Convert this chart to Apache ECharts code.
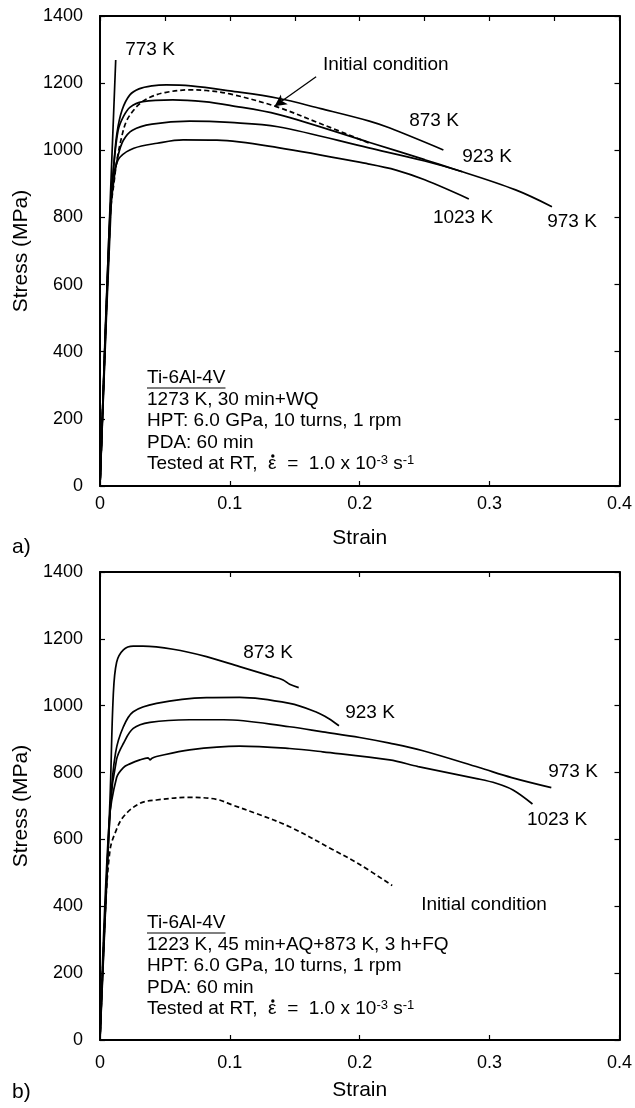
<!DOCTYPE html>
<html>
<head>
<meta charset="utf-8">
<script src="https://cdn.jsdelivr.net/npm/echarts@6/dist/echarts.min.js"></script>
<style>
  html, body { margin: 0; padding: 0; background: #fff; }
  #chart { width: 635px; height: 1108px; }
</style>
</head>
<body>
<div id="chart"></div>
<script>
// strain ticks / stress ticks
const strainTicks = [0, 0.1, 0.2, 0.3, 0.4];
const stressTicks = [0, 200, 400, 600, 800, 1000, 1200, 1400];

// a) 1273 K, 30 min+WQ  -> [strain, stress MPa]
const a773 = [[0, 0], [0.0064, 700], [0.0121, 1269]];
const a873 = [[0, 0], [0.007, 760], [0.0105, 950], [0.013, 1050], [0.017, 1120], [0.023, 1165], [0.03, 1183], [0.04, 1192], [0.051, 1195], [0.07, 1192], [0.1, 1177], [0.137, 1155], [0.17, 1124], [0.2074, 1087], [0.2227, 1067], [0.2644, 1001]];
const a923 = [[0, 0], [0.008, 820], [0.0105, 950], [0.014, 1060], [0.018, 1100], [0.023, 1128], [0.033, 1145], [0.056, 1150], [0.08, 1145], [0.1, 1134], [0.137, 1107], [0.207, 1024], [0.25, 972], [0.279, 936]];
const a973 = [[0, 0], [0.0085, 830], [0.011, 920], [0.014, 985], [0.018, 1030], [0.025, 1060], [0.04, 1078], [0.069, 1087], [0.1, 1083], [0.137, 1070], [0.207, 1007], [0.25, 968], [0.279, 936], [0.32, 882], [0.348, 832]];
const a1023 = [[0, 0], [0.009, 900], [0.012, 950], [0.0155, 980], [0.026, 1006], [0.044, 1021], [0.064, 1031], [0.09, 1030], [0.137, 1008], [0.207, 959], [0.228, 941], [0.25, 912], [0.284, 855]];
const aInitial = [[0, 0], [0.008, 810], [0.011, 910], [0.013, 970], [0.017, 1045], [0.0205, 1088], [0.026, 1120], [0.031, 1140], [0.0385, 1158], [0.05, 1172], [0.069, 1180], [0.082, 1178], [0.1, 1168], [0.1357, 1130], [0.17, 1079], [0.207, 1022]];
const aArrow = [[0.1664, 1219], [0.1344, 1131]];

// b) 1223 K, 45 min+AQ+873 K, 3 h+FQ
const b873 = [[0, 0], [0.0077, 720], [0.0102, 1030], [0.0128, 1130], [0.018, 1167], [0.0256, 1178], [0.033, 1178], [0.0563, 1169], [0.082, 1147], [0.1075, 1117], [0.133, 1087], [0.141, 1077], [0.146, 1064], [0.153, 1054]];
const b923 = [[0, 0], [0.008, 700], [0.012, 860], [0.018, 937], [0.0256, 982], [0.0435, 1007], [0.082, 1024], [0.1075, 1025], [0.146, 1007], [0.166, 982], [0.176, 962], [0.184, 940]];
const b973 = [[0, 0], [0.008, 700], [0.0128, 840], [0.018, 887], [0.0256, 932], [0.0384, 950], [0.069, 958], [0.095, 958], [0.146, 937], [0.1715, 922], [0.2, 905], [0.223, 888], [0.248, 866], [0.292, 815], [0.317, 785], [0.3475, 755]];
const b1023 = [[0, 0], [0.007, 650], [0.0128, 785], [0.018, 815], [0.023, 826], [0.0307, 838], [0.037, 844], [0.0385, 838], [0.04, 843], [0.0435, 848], [0.069, 868], [0.1075, 879], [0.146, 872], [0.1715, 862], [0.223, 838], [0.245, 818], [0.29, 782], [0.305, 768], [0.318, 748], [0.333, 706]];
const bInitial = [[0, 0], [0.004, 380], [0.0077, 568], [0.0115, 618], [0.018, 668], [0.0307, 708], [0.0435, 718], [0.069, 726], [0.0896, 720], [0.102, 703], [0.12, 678], [0.146, 638], [0.179, 570], [0.2, 525], [0.225, 462]];

const font = "'Liberation Sans', Arial, sans-serif";
const black = "#000";
const textSize = 19;

const ctx = document.createElement("canvas").getContext("2d");
function measure(s, size) {
  ctx.font = (size || textSize) + "px " + font;
  return ctx.measureText(s).width;
}

function xAxes(grid, topInterval, labelMargin, nameGap) {
  return [
    {
      gridIndex: grid, type: "value", position: "bottom",
      min: strainTicks[0], max: strainTicks[strainTicks.length - 1], interval: 0.1,
      name: "Strain", nameLocation: "middle", nameGap: nameGap,
      nameTextStyle: { color: black, fontSize: 21, fontFamily: font },
      axisLine: { onZero: false, lineStyle: { color: black, width: 2 } },
      axisTick: { inside: true, length: 5, lineStyle: { color: black, width: 1.2 } },
      axisLabel: { color: black, fontSize: 18, fontFamily: font, margin: labelMargin, formatter: v => String(v) },
      splitLine: { show: false }
    },
    {
      gridIndex: grid, type: "value", position: "top",
      min: 0, max: 0.4, interval: topInterval,
      axisLine: { onZero: false, lineStyle: { color: black, width: 2 } },
      axisTick: { inside: true, length: 5, lineStyle: { color: black, width: 1.2 } },
      axisLabel: { show: false },
      splitLine: { show: false }
    }
  ];
}

function yAxes(grid) {
  return [
    {
      gridIndex: grid, type: "value", position: "left",
      min: stressTicks[0], max: stressTicks[stressTicks.length - 1], interval: 200,
      name: "Stress (MPa)", nameLocation: "middle", nameGap: 56, nameRotate: 90,
      nameTextStyle: { color: black, fontSize: 21, fontFamily: font },
      axisLine: { onZero: false, lineStyle: { color: black, width: 2 } },
      axisTick: { inside: true, length: 5, lineStyle: { color: black, width: 1.2 } },
      axisLabel: { color: black, fontSize: 18, fontFamily: font, margin: 17, formatter: v => String(v) },
      splitLine: { show: false }
    },
    {
      gridIndex: grid, type: "value", position: "right",
      min: 0, max: 1400, interval: 200,
      axisLine: { onZero: false, lineStyle: { color: black, width: 2 } },
      axisTick: { inside: true, length: 5, lineStyle: { color: black, width: 1.2 } },
      axisLabel: { show: false },
      splitLine: { show: false }
    }
  ];
}

function curve(data, xi, yi, dashed) {
  return {
    type: "line", data, xAxisIndex: xi, yAxisIndex: yi,
    showSymbol: false, symbol: "none", smooth: 0.35,
    lineStyle: { color: black, width: 1.7, type: dashed ? [5, 3] : "solid" },
    silent: true
  };
}

function txt(text, x, y, align) {
  return {
    type: "text", x, y,
    style: { text, fill: black, font: textSize + "px " + font, textAlign: align || "center", textVerticalAlign: "middle" }
  };
}

// "Tested at RT, ε̇ = 1.0 x 10^-3 s^-1" with a dot drawn over the epsilon
function rateLine(x, y) {
  const pre = "Tested at RT,  ";
  const dotX = x + measure(pre) + measure("ε") / 2;
  return [
    {
      type: "text", x, y,
      style: {
        text: "{a|" + pre + "ε  =  1.0 x 10}{s|-3}{a| s}{s|-1}",
        textVerticalAlign: "middle",
        rich: {
          a: { fontSize: textSize, fontFamily: font, color: black, lineHeight: 20 },
          s: { fontSize: 13, fontFamily: font, color: black, lineHeight: 20, verticalAlign: "top" }
        }
      }
    },
    { type: "circle", shape: { cx: dotX + 0.5, cy: y - 8, r: 1.7 }, style: { fill: black } }
  ];
}

function block(y0, lines) {
  const step = 21.5;
  const out = [];
  lines.forEach((l, i) => out.push(txt(l, 147, y0 + i * step, "left")));
  out.push(...rateLine(147, y0 + lines.length * step));
  const w = measure(lines[0]);
  out.push({ type: "line", shape: { x1: 147, y1: y0 + 10, x2: 147 + w, y2: y0 + 10 }, style: { stroke: black, lineWidth: 1.2 } });
  return out;
}

const chart = echarts.init(document.getElementById("chart"));
const arrowSeries = curve(aInitial, 0, 0, true);
arrowSeries.markLine = {
  silent: true, symbol: ["none", "arrow"], symbolSize: [9, 12],
  label: { show: false },
  lineStyle: { color: black, width: 1.3, type: "solid" },
  data: [[{ coord: aArrow[0] }, { coord: aArrow[1] }]]
};

chart.setOption({
  animation: false,
  backgroundColor: "#fff",
  grid: [
    { left: 100, top: 16, width: 521, height: 470 },
    { left: 100, top: 572, width: 521, height: 468 }
  ],
  xAxis: [...xAxes(0, 0.05, 9, 42), ...xAxes(1, 0.1, 14, 40)],
  yAxis: [...yAxes(0), ...yAxes(1)],
  series: [
    curve(a773, 0, 0), curve(a873, 0, 0), curve(a923, 0, 0), curve(a973, 0, 0), curve(a1023, 0, 0),
    arrowSeries,
    curve(b873, 2, 2), curve(b923, 2, 2), curve(b973, 2, 2), curve(b1023, 2, 2),
    curve(bInitial, 2, 2, true)
  ],
  graphic: [
    txt("773 K", 150, 50), txt("Initial condition", 323, 65, "left"),
    txt("873 K", 434, 121), txt("923 K", 487, 157), txt("1023 K", 463, 218), txt("973 K", 572, 222),
    ...block(378, ["Ti-6Al-4V", "1273 K, 30 min+WQ", "HPT: 6.0 GPa, 10 turns, 1 rpm", "PDA: 60 min"]),
    txt("873 K", 268, 653), txt("923 K", 370, 713), txt("973 K", 573, 772), txt("1023 K", 557, 820),
    txt("Initial condition", 484, 905),
    ...block(923, ["Ti-6Al-4V", "1223 K, 45 min+AQ+873 K, 3 h+FQ", "HPT: 6.0 GPa, 10 turns, 1 rpm", "PDA: 60 min"]),
    { type: "text", x: 12, y: 547, style: { text: "a)", fill: black, font: "21px " + font, textVerticalAlign: "middle" } },
    { type: "text", x: 12, y: 1092, style: { text: "b)", fill: black, font: "21px " + font, textVerticalAlign: "middle" } }
  ]
});
</script>
</body>
</html>
